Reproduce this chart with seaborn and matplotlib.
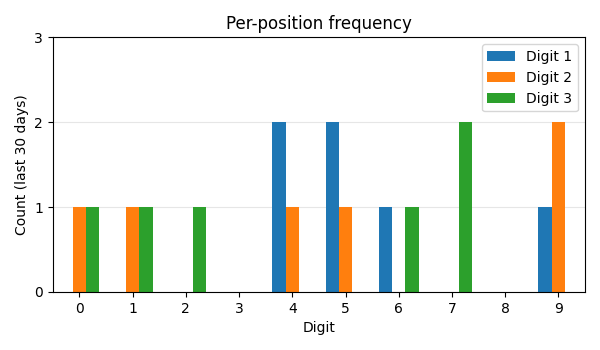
import matplotlib
matplotlib.use("Agg")
import matplotlib.pyplot as plt
import seaborn as sns
import pandas as pd

digits = list(range(10))
digit1 = [0, 0, 0, 0, 2, 2, 1, 0, 0, 1]
digit2 = [1, 1, 0, 0, 1, 1, 0, 0, 0, 2]
digit3 = [1, 1, 1, 0, 0, 0, 1, 2, 0, 0]
series_names = ["Digit 1", "Digit 2", "Digit 3"]

rows = []
for name, vals in zip(series_names, [digit1, digit2, digit3]):
    for d, v in zip(digits, vals):
        rows.append({"Digit": str(d), "Count": v, "Series": name})
df = pd.DataFrame(rows)

fig, ax = plt.subplots(figsize=(6, 3.5), dpi=100)
fig.subplots_adjust(left=0.088, right=0.975, top=0.893, bottom=0.166)

sns.barplot(data=df, x="Digit", y="Count", hue="Series", ax=ax,
            palette=["#1f77b4", "#ff7f0e", "#2ca02c"], width=0.75,
            saturation=1, errorbar=None, order=[str(d) for d in digits])

ax.set_xlim(-0.5, 9.5)
ax.set_ylim(0, 3)
ax.set_yticks([0, 1, 2, 3])
ax.set_title("Per-position frequency")
ax.set_xlabel("Digit")
ax.set_ylabel("Count (last 30 days)")
ax.yaxis.grid(True, color="#e6e6e6", linewidth=0.8)
ax.set_axisbelow(True)
ax.legend(title=None, loc="upper right")

fig.savefig("out.png", dpi=100)
